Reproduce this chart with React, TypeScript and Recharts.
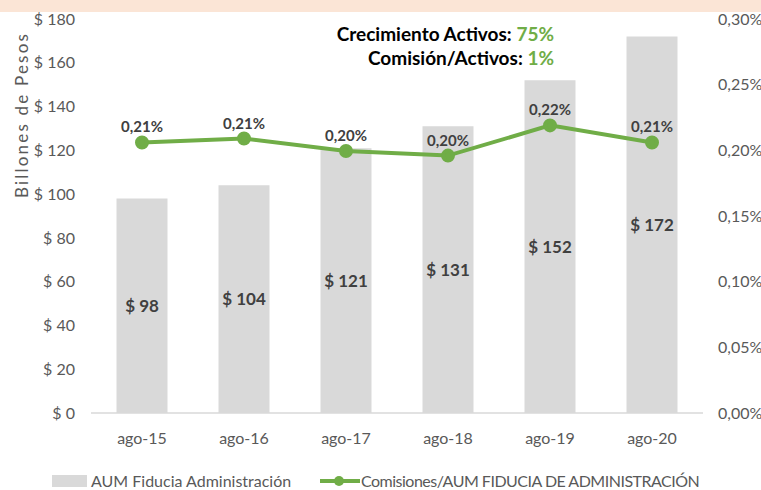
import React from "react";
import {
  ComposedChart,
  Bar,
  Line,
  XAxis,
  YAxis,
  LabelList,
  Legend,
} from "recharts";

const periodos = ["ago-15", "ago-16", "ago-17", "ago-18", "ago-19", "ago-20"];
const aumFiducia = [98, 104, 121, 131, 152, 172];
const comisionesPct = [0.206, 0.209, 0.1995, 0.196, 0.219, 0.206];
const ticksPesos = [0, 20, 40, 60, 80, 100, 120, 140, 160, 180];
const ticksPct = [0, 0.05, 0.1, 0.15, 0.2, 0.25, 0.3];

const data = periodos.map((p, i) => ({
  periodo: p,
  aum: aumFiducia[i],
  comision: comisionesPct[i],
}));

const FONT = "Lato, Carlito, 'Open Sans', sans-serif";
const GRIS = "#595959";
const VERDE = "#70AD47";

const pct = (v: number) => v.toFixed(2).replace(".", ",") + "%";

function LeyendaCustom() {
  return (
    <div
      style={{
        position: "relative",
        height: 22,
        fontFamily: FONT,
        fontSize: 16,
        lineHeight: "22px",
        color: GRIS,
        whiteSpace: "nowrap",
      }}
    >
      <span style={{ position: "absolute", left: 52, top: 5, width: 35, height: 12, background: "#D9D9D9" }} />
      <span style={{ position: "absolute", left: 91, top: 0 }}>AUM Fiducia Administración</span>
      <span style={{ position: "absolute", left: 320, top: 9, width: 40, height: 4, background: VERDE }} />
      <span style={{ position: "absolute", left: 334, top: 6, width: 10, height: 10, borderRadius: 5, background: VERDE }} />
      <span style={{ position: "absolute", left: 361, top: 0, letterSpacing: -0.5 }}>
        Comisiones/AUM FIDUCIA DE ADMINISTRACIÓN
      </span>
    </div>
  );
}

export default function App() {
  return (
    <div style={{ position: "absolute", left: 0, top: 0, width: 761, height: 490, background: "#fff", fontFamily: FONT }}>
      <div style={{ position: "absolute", left: 0, top: 0, width: 761, height: 12, background: "#FBE5D6" }} />
      <ComposedChart
        width={761}
        height={490}
        data={data}
        margin={{ top: 19, right: 0, left: 0, bottom: 0 }}
        barCategoryGap="25%"
      >
        <XAxis
          dataKey="periodo"
          axisLine={{ stroke: "#D9D9D9", strokeWidth: 1.5 }}
          tickLine={false}
          tickMargin={14}
          height={55}
          tick={{ fill: GRIS, fontSize: 16, fontFamily: FONT }}
          interval={0}
        />
        <YAxis
          yAxisId="left"
          width={91}
          domain={[0, 180]}
          ticks={ticksPesos}
          axisLine={false}
          tickLine={false}
          tickMargin={10}
          tickFormatter={(v: number) => `$ ${v}`}
          tick={{ fill: GRIS, fontSize: 16, fontFamily: FONT }}
        />
        <YAxis
          yAxisId="right"
          orientation="right"
          width={58}
          domain={[0, 0.3]}
          ticks={ticksPct}
          axisLine={false}
          tickLine={false}
          tickMargin={9}
          tickFormatter={pct}
          tick={{ fill: GRIS, fontSize: 16, fontFamily: FONT }}
        />
        <Legend
          verticalAlign="bottom"
          align="left"
          height={22}
          wrapperStyle={{ left: 0, top: 470, width: 761, height: 22 }}
          content={<LeyendaCustom />}
        />
        <Bar yAxisId="left" dataKey="aum" fill="#D9D9D9" isAnimationActive={false}>
          <LabelList
            dataKey="aum"
            position="center"
            formatter={(v: number) => `$ ${v}`}
            style={{ fill: "#404040", fontSize: 17, fontWeight: 700, fontFamily: FONT }}
          />
        </Bar>
        <Line
          yAxisId="right"
          dataKey="comision"
          stroke={VERDE}
          strokeWidth={4}
          dot={{ r: 5, fill: VERDE, stroke: VERDE }}
          isAnimationActive={false}
        >
          <LabelList
            dataKey="comision"
            position="top"
            offset={10}
            formatter={pct}
            style={{ fill: "#404040", fontSize: 15, fontWeight: 700, fontFamily: FONT }}
          />
        </Line>
      </ComposedChart>
      <div
        style={{
          position: "absolute",
          right: 207,
          top: 22,
          textAlign: "right",
          fontFamily: FONT,
          fontWeight: 700,
          fontSize: 19,
          lineHeight: "24px",
          color: "#000",
        }}
      >
        <div>
          Crecimiento Activos: <span style={{ color: VERDE }}>75%</span>
        </div>
        <div>
          Comisión/Activos: <span style={{ color: VERDE }}>1%</span>
        </div>
      </div>
      <div
        style={{
          position: "absolute",
          left: 21,
          top: 115,
          transform: "translate(-50%, -50%) rotate(-90deg)",
          whiteSpace: "nowrap",
          fontFamily: FONT,
          fontSize: 17,
          letterSpacing: 2.2,
          color: GRIS,
        }}
      >
        Billones de Pesos
      </div>
    </div>
  );
}
